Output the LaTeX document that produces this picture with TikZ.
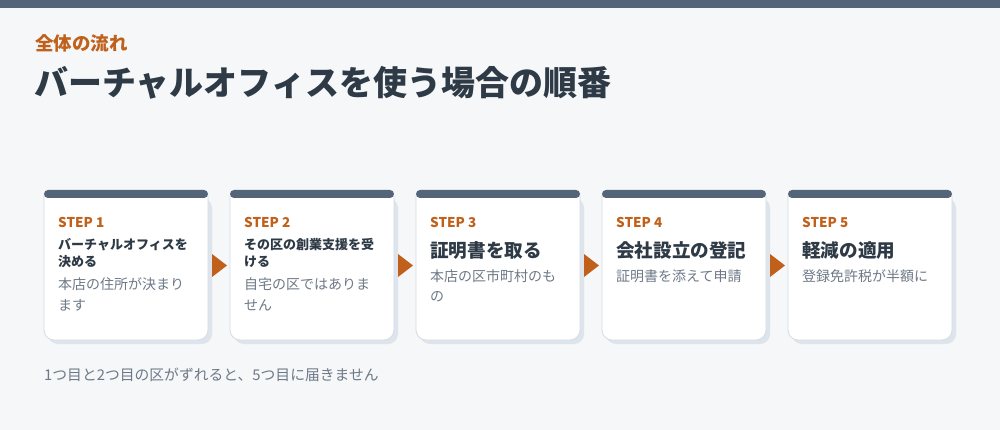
\documentclass[tikz,border=0pt]{standalone}
\usepackage{fontspec}
\setmainfont{Noto Sans CJK JP}
\definecolor{bg}{HTML}{F5F7F9}
\definecolor{slate}{HTML}{546579}
\definecolor{accent}{HTML}{C0601A}
\definecolor{ink}{HTML}{2E3A46}
\definecolor{muted}{HTML}{6E7987}
\definecolor{cardshadow}{HTML}{DDE4EC}
\definecolor{edge}{HTML}{D3DBE4}
\newcommand\cardframe[1]{%
  \fill[cardshadow, rounded corners=10pt] (#1+4,198) rectangle (#1+168,344);
  \draw[fill=white, draw=edge, line width=0.8pt] (#1+164,196) -- (#1,196) [rounded corners=10pt] -- (#1,340) -- (#1+164,340) -- (#1+164,196);
  \fill[slate, rounded corners=4pt] (#1,190) rectangle (#1+164,198);
}
\newcommand\nextarrow[1]{%
  \fill[accent] (#1+168,254) -- (#1+183,265.5) -- (#1+168,277) -- cycle;
}
\begin{document}
\begin{tikzpicture}[x=1pt,y=-1pt,
  every node/.style={inner sep=0pt, anchor=west},
  steplabel/.style={font=\fontsize{13.5}{15}\selectfont\bfseries, text=accent},
  smalltitle/.style={font=\fontsize{13}{15}\selectfont\bfseries, text=ink},
  bigtitle/.style={font=\fontsize{18.6}{21}\selectfont\bfseries, text=ink},
  desc/.style={font=\fontsize{14}{17}\selectfont, text=muted}]
\useasboundingbox (0,0) rectangle (1000,430);
\fill[bg] (0,0) rectangle (1000,430);
\fill[slate] (0,0) rectangle (1000,8);
\node[font=\fontsize{18.5}{20}\selectfont\bfseries, text=accent] (kicker) at (35,43) {全体の流れ};
\node[font=\fontsize{34}{38}\selectfont\bfseries, text=ink] (title) at (34,83) {バーチャルオフィスを使う場合の順番};

\cardframe{44}\cardframe{230}\cardframe{416}\cardframe{602}\cardframe{788}
\nextarrow{44}\nextarrow{230}\nextarrow{416}\nextarrow{602}

\node[steplabel] (s1) at (58,222) {STEP 1};
\node[smalltitle] (t1a) at (58,245) {バーチャルオフィスを};
\node[smalltitle] (t1b) at (58,262) {決める};
\node[desc] (d1a) at (58,284) {本店の住所が決まり};
\node[desc] (d1b) at (58,305) {ます};

\node[steplabel] (s2) at (244,222) {STEP 2};
\node[smalltitle] (t2a) at (244,245) {その区の創業支援を受};
\node[smalltitle] (t2b) at (244,262) {ける};
\node[desc] (d2a) at (244,284) {自宅の区ではありま};
\node[desc] (d2b) at (244,305) {せん};

\node[steplabel] (s3) at (430,222) {STEP 3};
\node[bigtitle] (t3) at (430,250) {証明書を取る};
\node[desc] (d3a) at (430,276) {本店の区市町村のも};
\node[desc] (d3b) at (430,297) {の};

\node[steplabel] (s4) at (616,222) {STEP 4};
\node[bigtitle] (t4) at (616,250) {会社設立の登記};
\node[desc] (d4) at (616,276) {証明書を添えて申請};

\node[steplabel] (s5) at (802,222) {STEP 5};
\node[bigtitle] (t5) at (802,250) {軽減の適用};
\node[desc] (d5) at (802,276) {登録免許税が半額に};

\node[desc, font=\fontsize{14.8}{17}\selectfont] (note) at (44,375) {1つ目と2つ目の区がずれると、5つ目に届きません};
\end{tikzpicture}
\end{document}
